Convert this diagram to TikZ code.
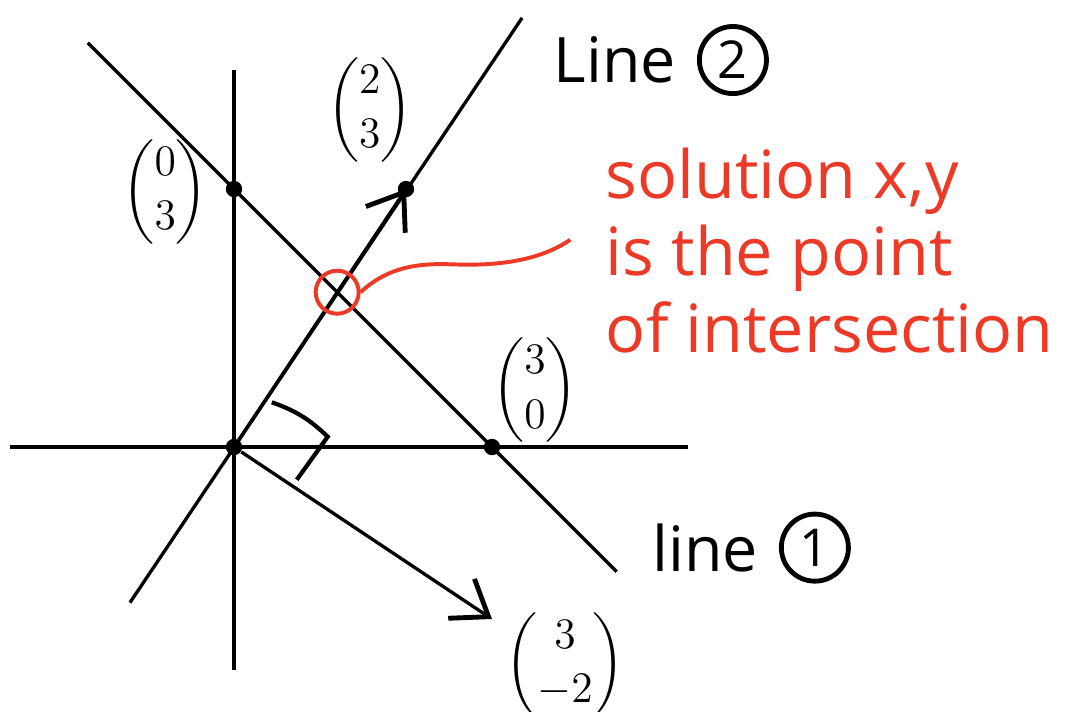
\documentclass[tikz,border=0pt]{standalone}
\usepackage{amsmath}
\usepackage{fontspec}
\setmainfont{Open Sans}
\usetikzlibrary{positioning,arrows.meta}
\definecolor{inkred}{RGB}{236,58,38}

\begin{document}
\begin{tikzpicture}[
  axis/.style={line width=1.1pt, black},
  dot/.style={circle, fill=black, inner sep=0pt, minimum size=0.19cm},
  vec/.style={line width=1.1pt, -{Straight Barb[length=0.38cm, width=0.55cm, line width=1.6pt]}},
  colvec/.style={font=\Large},
  tag/.style={font=\huge},
  numcircle/.style={circle, draw, line width=1.6pt, minimum size=0.78cm,
    inner sep=0pt, font=\LARGE},
  note/.style={font=\fontsize{22}{25.5}\selectfont, text=inkred, align=left, anchor=north west},
]
  \useasboundingbox (-2.721,-3.070) rectangle (9.733,5.198);

  % Axes
  \coordinate (xl) at (-2.6,0);
  \coordinate (xr) at (5.28,0);
  \coordinate (yb) at (0,-2.59);
  \coordinate (yt) at (0,4.38);
  \draw[axis] (xl) -- (xr);
  \draw[axis] (yb) -- (yt);

  % Points
  \node[dot] (O) at (0,0) {};
  \node[dot] (p03) at (0,3) {};
  \node[dot] (p30) at (3,0) {};
  \node[dot] (p23) at (2,3) {};

  % Line 1: x + y = 3
  \coordinate (l1a) at (-1.70,4.70);
  \coordinate (l1b) at (4.45,-1.45);
  \draw[axis] (l1a) -- (l1b);

  % Line 2: 3x - 2y = 0
  \coordinate (l2a) at (-1.21,-1.81);
  \coordinate (l2b) at (3.35,4.99);
  \draw[axis] (l2a) -- (l2b);

  % Vectors
  \draw[vec] (O) -- (p23.center);
  \coordinate (q) at (3,-2);
  \draw[vec] (O) -- (q);

  % Right angle mark
  \coordinate (ra) at (0.44,0.52);
  \coordinate (rc) at (1.09,0.12);
  \coordinate (rb) at (0.73,-0.38);
  \draw[line width=1.4pt] (ra) to[bend left=12] (rc) -- (rb);

  % Column vector labels
  \node[colvec] (v03) at (-0.80,2.97) {$\begin{pmatrix}0\\3\end{pmatrix}$};
  \node[colvec] (v23) at (1.58,3.92) {$\begin{pmatrix}2\\3\end{pmatrix}$};
  \node[colvec] (v30) at (3.50,0.66) {$\begin{pmatrix}3\\0\end{pmatrix}$};
  \node[colvec] (v32) at (3.85,-2.53) {$\begin{pmatrix}3\\-2\end{pmatrix}$};

  % Line names
  \node[tag] (name2) at (4.43,4.50) {Line};
  \node[numcircle, right=0.12cm of name2] (num2) {2};
  \node[tag] (name1) at (5.48,-1.17) {line};
  \node[numcircle, right=0.12cm of name1] (num1) {1};

  % Intersection
  \node[circle, draw=inkred, line width=1.3pt, minimum size=0.5cm] (cut) at (1.2,1.8) {};
  \node[note] (sol) at (4.20,3.60) {solution x,y\\is the point\\of intersection};
  \coordinate (tip) at (3.91,2.41);
  \draw[inkred, line width=1.3pt] (cut.east) .. controls (1.9,2.2) and (2.4,2.12) .. (2.71,2.12)
    .. controls (3.2,2.12) and (3.6,2.2) .. (tip);
\end{tikzpicture}
\end{document}
